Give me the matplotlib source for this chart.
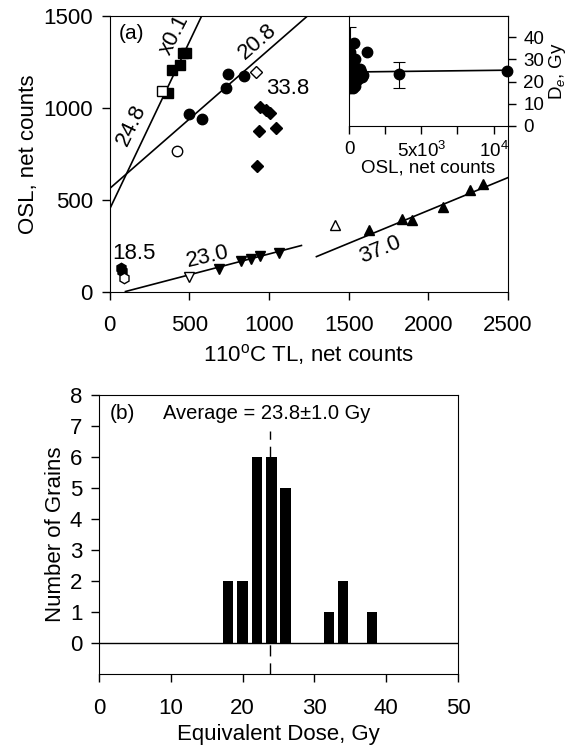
import matplotlib
matplotlib.use("Agg")
import matplotlib.pyplot as plt
import numpy as np

plt.rcParams['font.family'] = ['Liberation Sans', 'DejaVu Sans']
plt.rcParams['mathtext.fontset'] = 'custom'
plt.rcParams['mathtext.rm'] = 'Liberation Sans'
plt.rcParams['mathtext.it'] = 'Liberation Sans:italic'

# ---- panel (a): OSL vs 110C TL, one series per aliquot ----
sq_x = [368, 394, 442, 462, 479]
sq_y = [1079, 1206, 1233, 1297, 1297]
sq_open = (327, 1091)

circ_x = [500, 578, 730, 744, 843]
circ_y = [969, 942, 1106, 1182, 1173]
circ_open = (421, 764)

dia_x = [943, 979, 1006, 939, 1043, 928]
dia_y = [1002, 991, 973, 875, 888, 682]
dia_open = (922, 1196)

tdown_x = [688, 822, 887, 947, 1062]
tdown_y = [124, 164, 175, 196, 209]
tdown_open = (500, 78)

tup_x = [1628, 1837, 1900, 2092, 2259, 2342]
tup_y = [333, 397, 388, 460, 551, 588]
tup_open = (1413, 363)

low_x = [75, 80]
low_y = [128, 110]
low_open = (88, 75)

# fitted lines: x start, x end, intercept, slope
fit_x0 = [0, 0, 100, 1298]
fit_x1 = [578, 1240, 1204, 2500]
fit_a = [447, 560, -22.7, -274.7]
fit_b = [1.822, 0.757, 0.227, 0.358]

# labels: text, x, y, rotation
lab_txt = ['24.8', 'x0.1', '20.8', '33.8', '18.5', '23.0', '37.0']
lab_x = [139, 410, 932, 1120, 155, 613, 1695]
lab_y = [908, 1399, 1363, 1103, 205, 190, 226]
lab_rot = [64, 63, 41, 0, 0, 13, 22]

# ---- inset: De vs OSL ----
ins_x = [350, 70, 1230, 416, 60, 250, 400, 120, 300, 550, 700, 900, 1000,
         80, 350, 600, 800, 200, 450, 150, 500, 750, 30]
ins_y = [37.3, 33.3, 33.3, 30.3, 17.2, 17.0, 18.0, 19.5, 20.3, 20.6, 21.5,
         22.0, 23.0, 22.5, 23.5, 24.0, 24.5, 25.5, 25.0, 26.5, 26.0, 25.5, 27.0]
ins_err_x = [3490, 60]
ins_err_y = [23.3, 30.0]
ins_err_lo = [6.0, 14.5]
ins_err_hi = [5.5, 14.5]
ins_far = (10950, 24.8)
ins_fit_x = [500, 10950]
ins_fit_y = [24.3, 25.1]

# ---- panel (b): histogram of De ----
dose = [18, 20, 22, 24, 26, 32, 34, 38]
grains = [2, 2, 6, 6, 5, 1, 2, 1]
mean_dose = 23.8

fig = plt.figure(figsize=(5.81, 7.45), dpi=100)
FS = 16

ax = fig.add_axes([0.1885, 0.6087, 0.6859, 0.3698])
for x0, x1, a, b in zip(fit_x0, fit_x1, fit_a, fit_b):
    xs = np.array([x0, x1])
    ax.plot(xs, a + b * xs, color='black', lw=1.2)

ms = 7.5
ax.plot(sq_x, sq_y, 's', color='black', ms=6.8)
ax.plot(*sq_open, 's', mfc='white', mec='black', ms=6.8, mew=1)
ax.plot(circ_x, circ_y, 'o', color='black', ms=ms)
ax.plot(*circ_open, 'o', mfc='white', mec='black', ms=ms, mew=1)
ax.plot(dia_x, dia_y, 'D', color='black', ms=6.3)
ax.plot(*dia_open, 'D', mfc='white', mec='black', ms=6.3, mew=1)
ax.plot(tdown_x, tdown_y, 'v', color='black', ms=ms)
ax.plot(*tdown_open, 'v', mfc='white', mec='black', ms=ms, mew=1)
ax.plot(tup_x, tup_y, '^', color='black', ms=ms)
ax.plot(*tup_open, '^', mfc='white', mec='black', ms=ms, mew=1)
ax.plot(low_x, low_y, 'h', color='black', ms=ms)
ax.plot(*low_open, 'h', mfc='white', mec='black', ms=ms, mew=1)

for t, x, y, r in zip(lab_txt, lab_x, lab_y, lab_rot):
    ax.text(x, y, t, fontsize=FS, rotation=r, rotation_mode='anchor',
            ha='center', va='center')
ax.text(139, 1405, '(a)', fontsize=15, ha='center', va='center')

ax.set_xlim(0, 2500)
ax.set_ylim(0, 1500)
ax.set_xticks([0, 500, 1000, 1500, 2000, 2500])
ax.set_yticks([0, 500, 1000, 1500])
ax.tick_params(labelsize=FS, direction='out', length=6, width=1, pad=6)
ax.tick_params(axis='x', pad=11)
ax.set_xlabel('110$^{\\rm o}$C TL, net counts', fontsize=FS, labelpad=4)
ax.set_ylabel('OSL, net counts', fontsize=FS, labelpad=3)

# inset
ins = fig.add_axes([0.6007, 0.8309, 0.2737, 0.1477])
ins.plot(ins_fit_x, ins_fit_y, color='black', lw=1.2)
ins.plot(ins_x, ins_y, 'o', color='black', ms=ms)
ins.errorbar(ins_err_x, ins_err_y, yerr=[ins_err_lo, ins_err_hi], fmt='o',
             color='black', ms=ms, elinewidth=0.8, capsize=4, capthick=0.8)
ins.plot(*ins_far, 'o', color='black', ms=ms, clip_on=False)
ins.set_xlim(0, 11000)
ins.set_ylim(0, 49.5)
ins.set_xticks([0, 2500, 5000, 7500, 10000])
ins.set_xticklabels(['0', '', '5x10$^3$', '', '10$^4$'])
ins.set_yticks([0, 10, 20, 30, 40])
ins.yaxis.tick_right()
ins.yaxis.set_label_position('right')
ins.tick_params(labelsize=13.5, direction='out', length=6, width=1, pad=5)
ins.set_xlabel('OSL, net counts', fontsize=13.5, labelpad=-1)
ins.set_ylabel('D$_e$, Gy', fontsize=13.5, labelpad=2)

# panel (b)
bx = fig.add_axes([0.1704, 0.0953, 0.6179, 0.3745])
bx.bar(dose, grains, width=1.45, color='black')
bx.axhline(0, color='black', lw=1)
bx.plot([mean_dose, mean_dose], [-1, 6.85], color='black', lw=1,
        dashes=(8, 5))
bx.text(1.5, 7.4, '(b)', fontsize=15, ha='left', va='center')
bx.text(23.4, 7.4, 'Average = 23.8\u00b11.0 Gy', fontsize=14.5,
        ha='center', va='center')
bx.set_xlim(0, 50)
bx.set_ylim(-1, 8)
bx.set_xticks(range(0, 51, 10))
bx.set_yticks(range(0, 9))
bx.tick_params(labelsize=FS, direction='out', length=6, width=1, pad=6)
bx.tick_params(axis='x', pad=11)
bx.set_xlabel('Equivalent Dose, Gy', fontsize=FS, labelpad=4)
bx.set_ylabel('Number of Grains', fontsize=FS, labelpad=3)

fig.savefig('out.png', dpi=100)
